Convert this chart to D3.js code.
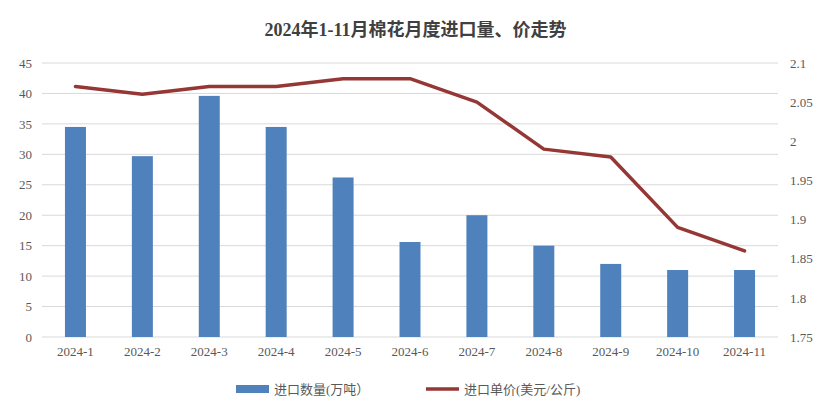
<!DOCTYPE html>
<html><head><meta charset="utf-8">
<script src="https://cdn.jsdelivr.net/npm/d3@7"></script>
<style>body{margin:0;background:#fff}text{font-family:"Liberation Serif","Noto Sans CJK SC",serif}</style>
</head><body>
<script>
var months = ["2024-1","2024-2","2024-3","2024-4","2024-5","2024-6","2024-7","2024-8","2024-9","2024-10","2024-11"];
var volume = [34.5, 29.7, 39.6, 34.5, 26.2, 15.6, 20, 15, 12, 11, 11];
var price = [2.07, 2.06, 2.07, 2.07, 2.08, 2.08, 2.05, 1.99, 1.98, 1.89, 1.86];
var leftTicks = [0,5,10,15,20,25,30,35,40,45];
var rightTicks = [1.75,1.8,1.85,1.9,1.95,2,2.05,2.1];

var W = 831, H = 417, L = 42, R = 778, T = 63, B = 337;
var svg = d3.select("body").append("svg").attr("width", W).attr("height", H);

var x = d3.scaleBand().domain(months).range([L, R]);
var y = d3.scaleLinear().domain([0, 45]).range([B, T]);
var y2 = d3.scaleLinear().domain([1.75, 2.1]).range([B, T]);

svg.append("text").attr("x", W/2).attr("y", 36).attr("text-anchor", "middle")
   .attr("font-size", 18).attr("font-weight", "bold").attr("fill", "#404040")
   .text("2024年1-11月棉花月度进口量、价走势");

// grid
svg.selectAll(".grid").data(leftTicks).enter().append("line")
   .attr("x1", L).attr("x2", R)
   .attr("y1", d => y(d)).attr("y2", d => y(d))
   .attr("stroke", "#d9d9d9").attr("stroke-width", 1);

var ax = svg.append("g").attr("transform", "translate(" + (L - 4) + ",0)")
   .call(d3.axisLeft(y).tickValues(leftTicks).tickSize(0).tickPadding(6));
var ax2 = svg.append("g").attr("transform", "translate(" + (R + 6) + ",0)")
   .call(d3.axisRight(y2).tickValues(rightTicks).tickSize(0).tickPadding(6).tickFormat(d3.format("")));
var axx = svg.append("g").attr("transform", "translate(0," + B + ")")
   .call(d3.axisBottom(x).tickSize(0).tickPadding(10));
[ax, ax2, axx].forEach(g => {
  g.select(".domain").remove();
  g.selectAll("text").attr("font-size", 13).attr("fill", "#595959")
   .style("font-family", "Liberation Serif");
});

var bw = 21;
svg.selectAll(".bar").data(volume).enter().append("rect")
   .attr("x", (d, i) => x(months[i]) + x.bandwidth()/2 - bw/2)
   .attr("y", d => y(d)).attr("width", bw).attr("height", d => B - y(d))
   .attr("fill", "#4f81bd");

svg.append("path").datum(price)
   .attr("d", d3.line().x((d, i) => x(months[i]) + x.bandwidth()/2).y(d => y2(d)))
   .attr("fill", "none").attr("stroke", "#953735").attr("stroke-width", 3.5)
   .attr("stroke-linejoin", "round").attr("stroke-linecap", "round");

// legend
var lg = svg.append("g").attr("transform", "translate(0,389)");
lg.append("rect").attr("x", 236).attr("y", -4).attr("width", 33).attr("height", 8).attr("fill", "#4f81bd");
lg.append("text").attr("x", 274).attr("y", 5).attr("font-size", 13).attr("fill", "#595959").text("进口数量(万吨）");
lg.append("line").attr("x1", 426).attr("x2", 459).attr("stroke", "#953735").attr("stroke-width", 3.5);
lg.append("text").attr("x", 464).attr("y", 5).attr("font-size", 13).attr("fill", "#595959").text("进口单价(美元/公斤)");
</script>
</body></html>
